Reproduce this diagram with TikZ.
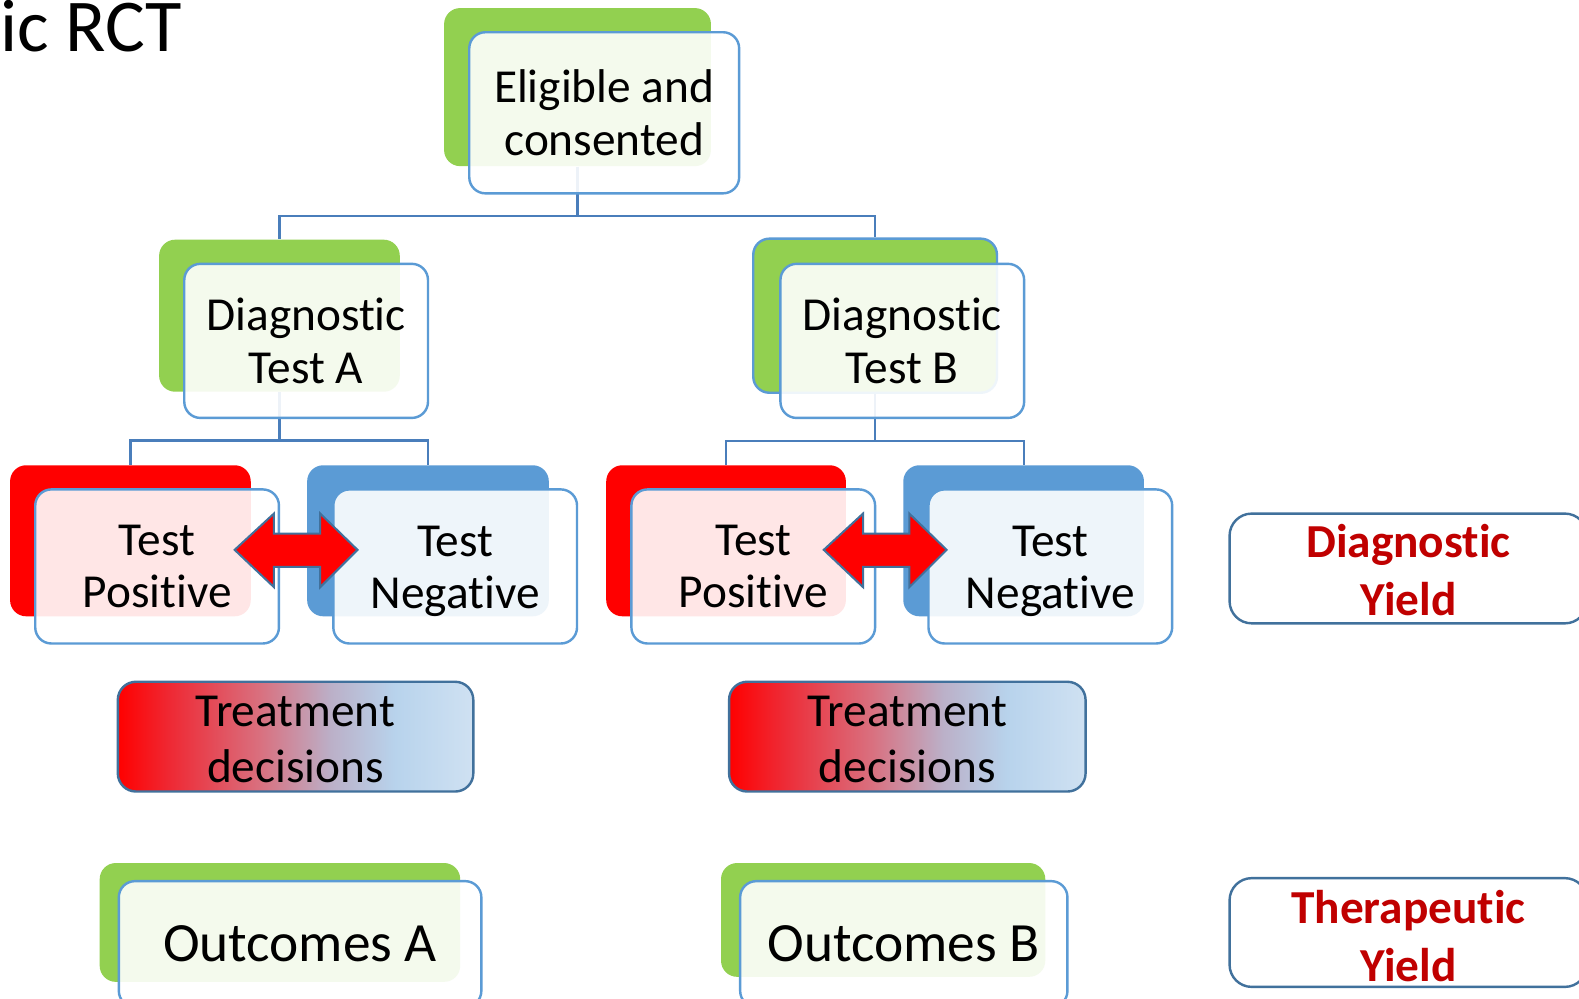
\documentclass[tikz,border=0pt]{standalone}
\usepackage{fontspec}
\setmainfont{Carlito}[Ligatures=NoCommon]
\usetikzlibrary{fit}
\definecolor{cgreen}{HTML}{92D050}
\definecolor{cred}{HTML}{FF0000}
\definecolor{cblue}{HTML}{5B9BD5}
\definecolor{cborder}{HTML}{5B9BD5}
\definecolor{cline}{HTML}{4A7EBB}
\definecolor{cdark}{HTML}{41719C}
\definecolor{cyield}{HTML}{C00000}
\definecolor{ga}{HTML}{EE2A35}
\definecolor{gb}{HTML}{D9707F}
\definecolor{gc}{HTML}{BBB0C8}
\definecolor{gd}{HTML}{B8D3EC}
\definecolor{ge}{HTML}{CFE1F2}
\pgfdeclarehorizontalshading{treat}{100bp}{color(0bp)=(cred); color(25bp)=(cred); color(32.5bp)=(ga); color(45bp)=(gb); color(55bp)=(gc); color(64bp)=(gd); color(75bp)=(ge); color(100bp)=(ge)}
\newcommand\nodefont{\fontsize{23.5}{26}\selectfont}
\begin{document}
\begin{tikzpicture}[x=0.5pt,y=-0.5pt,
  back/.style={rounded corners=8pt, inner sep=0pt, draw=none},
  front/.style={rounded corners=8pt, inner sep=0pt, draw=cborder, line width=1.2pt,
    fill=white, fill opacity=0.9},
  txt/.style={inner sep=0pt, align=center, font=\nodefont},
  conn/.style={draw=cline, line width=1.1pt},
  treat/.style={rounded corners=9pt, inner sep=0pt, draw=cdark, line width=1.2pt,
    shading=treat},
  yield/.style={rounded corners=11pt, inner sep=0pt, draw=cdark, line width=1.2pt,
    fill=white},
  yieldtxt/.style={inner sep=0pt, align=center, text=cyield, font=\fontsize{23.5}{28.5}\selectfont\bfseries},
  blockarrow/.style={fill=cred, draw=cdark, line width=1pt, line join=miter}
]
\clip (0,0) rectangle (1568,992);
\fill[white] (0,0) rectangle (1568,992);

% title
\node[anchor=base west, inner sep=0pt, font=\fontsize{37}{42}\selectfont] (title) at (0,51) {ic RCT};

% back shapes
\node[back, fill=cgreen, fit={(441,8)(706,165)}] (eB) {};
\node[back, fill=cgreen, fit={(158,238)(397,389)}] (aB) {};
\node[back, fill=cgreen, draw=cborder, line width=1.2pt, fit={(748,237)(990,390)}] (bB) {};
\node[back, fill=cred, fit={(10,462)(249,612)}] (pAB) {};
\node[back, fill=cblue, fit={(305,462)(545,612)}] (nAB) {};
\node[back, fill=cred, fit={(602,462)(840,612)}] (pBB) {};
\node[back, fill=cblue, fit={(897,462)(1136,612)}] (nBB) {};
\node[back, fill=cgreen, fit={(99,857)(457,975)}] (oAB) {};
\node[back, fill=cgreen, fit={(716,857)(1038,970)}] (oBB) {};

% connectors
\draw[conn] (eB.south) -- ++(0,49) -| (aB.north);
\draw[conn] (eB.south) -- ++(0,49) -| (bB.north);
\draw[conn] (aB.south) -- ++(0,48) -| (pAB.north);
\draw[conn] (aB.south) -- ++(0,48) -| (nAB.north);
\draw[conn] (bB.south) -- ++(0,47) -| (pBB.north);
\draw[conn] (bB.south) -- ++(0,47) -| (nBB.north);

% front cards
\node[front, fit={(466,32)(734,192)}] (eF) {};
\node[front, fit={(183,262)(425,415)}] (aF) {};
\node[front, fit={(775,262)(1017,415)}] (bF) {};
\node[front, fit={(35,486)(277,639)}] (pAF) {};
\node[front, fit={(331,486)(573,639)}] (nAF) {};
\node[front, fit={(627,486)(869,639)}] (pBF) {};
\node[front, fit={(922,486)(1164,639)}] (nBF) {};
\node[front, fit={(118,875)(478,1000)}] (oAF) {};
\node[front, fit={(735,875)(1060,1000)}] (oBF) {};

% card texts
\node[txt] (eT) at (eF.center) {Eligible and\\consented};
\node[txt] (aT) at (aF.center) {Diagnostic\\Test A};
\node[txt] (bT) at (bF.center) {Diagnostic\\Test B};
\node[txt] (pAT) at (pAF.center) {Test\\Positive};
\node[txt] (nAT) at ([yshift=-2.5pt]nAF.center) {Test\\Negative};
\node[txt] (pBT) at (pBF.center) {Test\\Positive};
\node[txt] (nBT) at ([yshift=-2.5pt]nBF.center) {Test\\Negative};
\node[txt, font=\fontsize{27.5}{30}\selectfont] (oAT) at (oAF.center) {Outcomes A};
\node[txt, font=\fontsize{27.5}{30}\selectfont] (oBT) at (oBF.center) {Outcomes B};

% block arrows
\coordinate (arA) at (233,546);
\coordinate (arB) at (818,546);
\foreach \c in {arA,arB}{
  \draw[blockarrow] (\c) -- ++(39,-36) -- ++(0,20) -- ++(46,0) -- ++(0,-20) -- ++(37,36)
    -- ++(-37,37) -- ++(0,-20) -- ++(-46,0) -- ++(0,20) -- cycle;
}

% treatment decisions
\node[treat, fit={(117,677)(470,786)}] (tA) {};
\node[treat, fit={(724,677)(1078,786)}] (tB) {};
\node[txt, font=\fontsize{23.5}{28}\selectfont] (tAT) at ([yshift=-1.5pt]tA.center) {Treatment\\decisions};
\node[txt, font=\fontsize{23.5}{28}\selectfont] (tBT) at ([yshift=-1.5pt]tB.center) {Treatment\\decisions};

% yields
\node[yield, fit={(1221,510)(1576,619)}] (dY) {};
\node[yield, fit={(1221,872)(1576,980)}] (tY) {};
\node[yieldtxt] (dYT) at ([yshift=-0.75pt]dY.center) {Diagnostic\\Yield};
\node[yieldtxt] (tYT) at ([yshift=-1.75pt]tY.center) {Therapeutic\\Yield};
\end{tikzpicture}
\end{document}
